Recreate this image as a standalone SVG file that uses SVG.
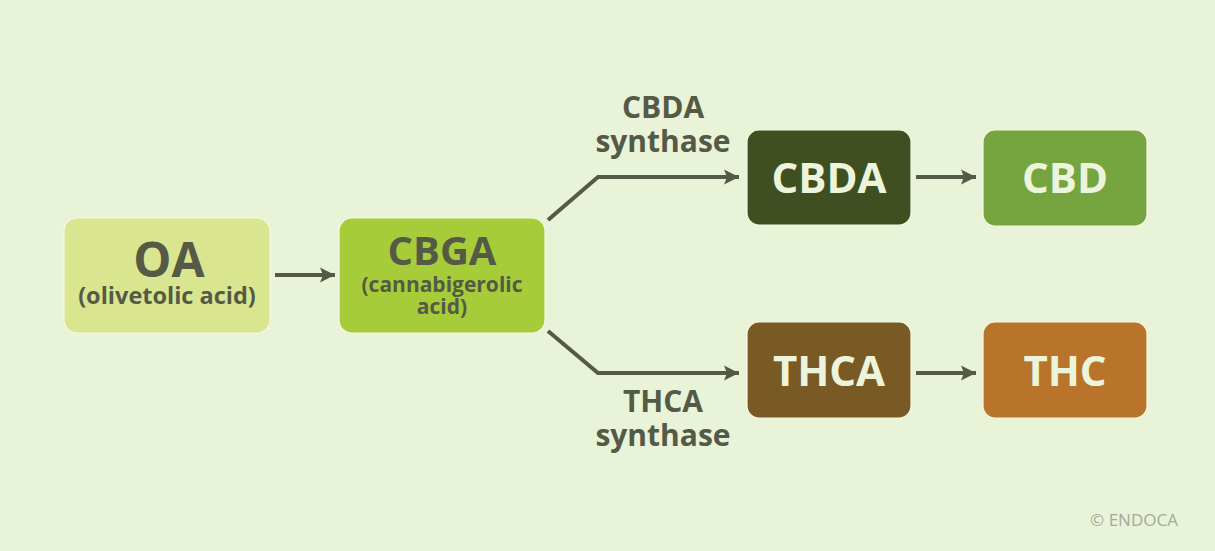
<svg xmlns="http://www.w3.org/2000/svg" width="1215" height="551" viewBox="0 0 1215 551">
<defs>
<style>
.box{stroke:#f3f8e6;stroke-width:1.2}
.dark{fill:#545a45;font-family:"Open Sans","Liberation Sans",sans-serif;font-weight:700;text-anchor:middle}
.light{fill:#ecf5dc;font-family:"Open Sans","Liberation Sans",sans-serif;font-weight:700;text-anchor:middle}
.big{font-size:42px}
.sub{font-size:21px}
.lbl{font-size:30px}
.edge{fill:none;stroke:#545a45;stroke-width:4;stroke-linejoin:miter}
</style>
<marker id="ah" markerUnits="userSpaceOnUse" markerWidth="20" markerHeight="20" viewBox="0 0 20 20" refX="16" refY="10" orient="auto">
<path d="M1,2.5 L16,10 L1,17.5 L4,10 Z" fill="#545a45"/>
</marker>
</defs>
<rect width="1215" height="551" fill="#e9f3d8"/>
<g id="connectors">
<path class="edge" d="M275,275 H335" marker-end="url(#ah)"/>
<path class="edge" d="M548,220 L598,177 H739" marker-end="url(#ah)"/>
<path class="edge" d="M548,331 L598,373 H739" marker-end="url(#ah)"/>
<path class="edge" d="M916,177 H976" marker-end="url(#ah)"/>
<path class="edge" d="M916,373 H976" marker-end="url(#ah)"/>
</g>
<g id="node-oa">
<rect class="box" x="64" y="218" width="206" height="115" rx="13" fill="#dae68f"/>
<text class="dark" x="169" y="277" font-size="48">OA</text>
<text class="dark" x="167" y="304" font-size="23.5">(olivetolic acid)</text>
</g>
<g id="node-cbga">
<rect class="box" x="339" y="218" width="206" height="115" rx="13" fill="#a7cc3a"/>
<text class="dark" x="442" y="265" font-size="40">CBGA</text>
<text class="dark sub" x="442" y="292">(cannabigerolic</text>
<text class="dark sub" x="442" y="314">acid)</text>
</g>
<g id="label-cbda-synthase">
<text class="dark lbl" x="663" y="118">CBDA</text>
<text class="dark lbl" x="663" y="152">synthase</text>
</g>
<g id="label-thca-synthase">
<text class="dark lbl" x="663" y="412">THCA</text>
<text class="dark lbl" x="663" y="446">synthase</text>
</g>
<g id="node-cbda">
<rect class="box" x="747" y="130" width="164" height="95" rx="12" fill="#404f22"/>
<text class="light big" x="829" y="193">CBDA</text>
</g>
<g id="node-cbd">
<rect class="box" x="983" y="130" width="164" height="96" rx="12" fill="#76a53f"/>
<text class="light big" x="1065" y="193">CBD</text>
</g>
<g id="node-thca">
<rect class="box" x="747" y="322" width="164" height="96" rx="12" fill="#7a5a24"/>
<text class="light big" x="829" y="386">THCA</text>
</g>
<g id="node-thc">
<rect class="box" x="983" y="322" width="164" height="96" rx="12" fill="#b9742b"/>
<text class="light big" x="1065" y="386">THC</text>
</g>
<text x="1134" y="526" font-family="'Open Sans','Liberation Sans',sans-serif" font-size="17" fill="#a3ab9c" text-anchor="middle">© ENDOCA</text>
</svg>
